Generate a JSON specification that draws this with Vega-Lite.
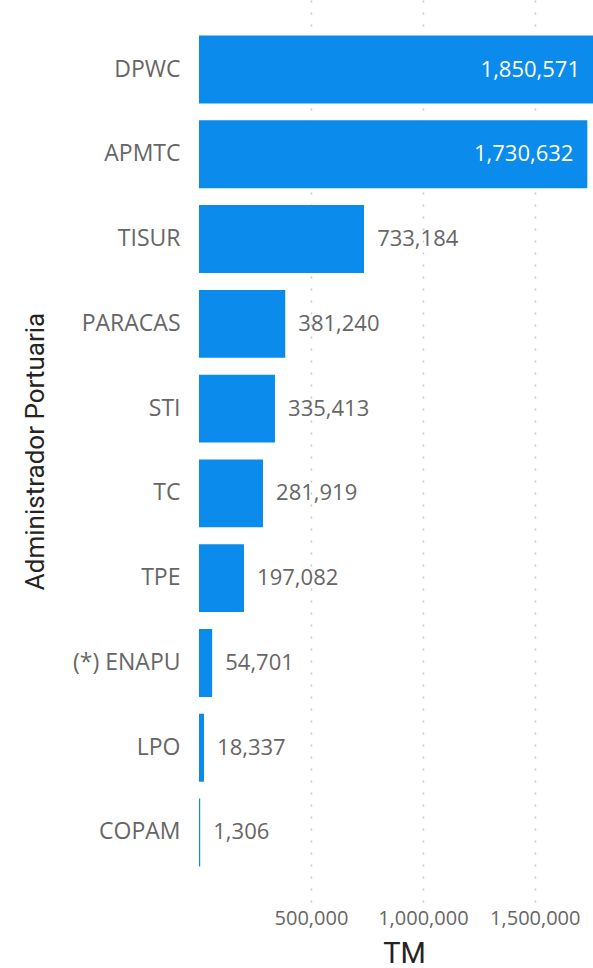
{
  "$schema": "https://vega.github.io/schema/vega-lite/v6.json",
  "width": 394,
  "height": 902,
  "autosize": {"type": "none"},
  "padding": {"left": 199, "top": 0, "right": 0, "bottom": 66},
  "background": "white",
  "config": {
    "view": {"stroke": null},
    "font": "Open Sans"
  },
  "data": {
    "values": [
      {"admin": "DPWC", "TM": 1850571},
      {"admin": "APMTC", "TM": 1730632},
      {"admin": "TISUR", "TM": 733184},
      {"admin": "PARACAS", "TM": 381240},
      {"admin": "STI", "TM": 335413},
      {"admin": "TC", "TM": 281919},
      {"admin": "TPE", "TM": 197082},
      {"admin": "(*) ENAPU", "TM": 54701},
      {"admin": "LPO", "TM": 18337},
      {"admin": "COPAM", "TM": 1306}
    ]
  },
  "encoding": {
    "y": {
      "field": "admin",
      "type": "nominal",
      "sort": ["DPWC", "APMTC", "TISUR", "PARACAS", "STI", "TC", "TPE", "(*) ENAPU", "LPO", "COPAM"],
      "scale": {"paddingInner": 0.22, "paddingOuter": 0.43},
      "axis": {
        "title": "Administrador Portuaria",
        "titleFont": "Roboto",
        "titleFontSize": 26,
        "titleFontWeight": "normal",
        "titleColor": "#252423",
        "titlePadding": 24,
        "labelFont": "Open Sans",
        "labelFontSize": 23,
        "labelColor": "#666666",
        "labelPadding": 19,
        "ticks": false,
        "domain": false
      }
    },
    "x": {
      "field": "TM",
      "type": "quantitative",
      "scale": {"domain": [0, 1760000], "clamp": true, "nice": false},
      "axis": {
        "title": "TM",
        "titleFont": "Roboto",
        "titleFontSize": 29,
        "titleFontWeight": "normal",
        "titleColor": "#252423",
        "titlePadding": 11,
        "titleX": 205,
        "values": [500000, 1000000, 1500000],
        "format": ",d",
        "labelFont": "Open Sans",
        "labelFontSize": 20,
        "labelColor": "#666666",
        "labelPadding": 6,
        "ticks": false,
        "domain": false,
        "grid": true,
        "gridColor": "#C8C8C8",
        "gridDash": [2, 10],
        "gridWidth": 1.5
      }
    }
  },
  "layer": [
    {
      "mark": {"type": "bar", "color": "#0B8BEB", "stroke": "#0B8BEB", "strokeWidth": 1.8, "clip": true}
    },
    {
      "transform": [{"filter": "datum.TM > 1000000"}],
      "mark": {"type": "text", "align": "right", "baseline": "middle", "dx": -13, "color": "white", "fontSize": 22, "font": "Open Sans"},
      "encoding": {"text": {"field": "TM", "type": "quantitative", "format": ",d"}}
    },
    {
      "transform": [{"filter": "datum.TM <= 1000000"}],
      "mark": {"type": "text", "align": "left", "baseline": "middle", "dx": 14, "color": "#666666", "fontSize": 22, "font": "Open Sans"},
      "encoding": {"text": {"field": "TM", "type": "quantitative", "format": ",d"}}
    }
  ]
}
